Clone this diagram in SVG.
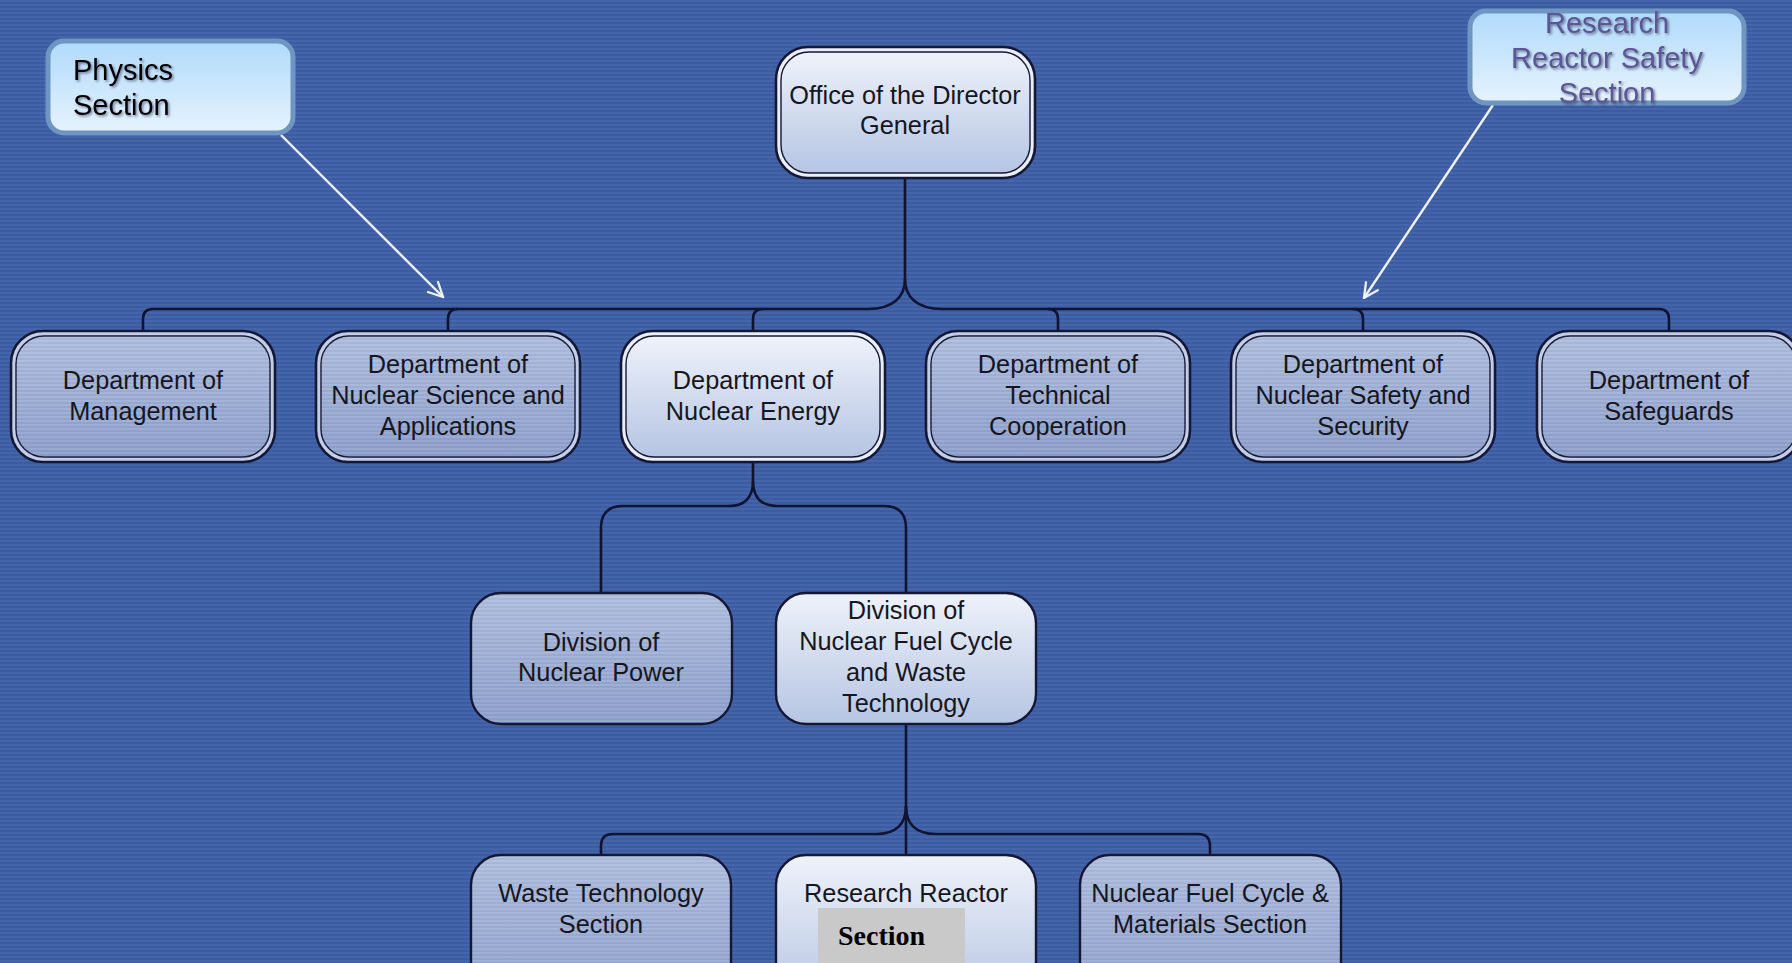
<svg xmlns="http://www.w3.org/2000/svg" width="1792" height="963" viewBox="0 0 1792 963">
<defs>
<pattern id="bgStripes" patternUnits="userSpaceOnUse" width="16" height="4">
<rect x="0" y="0" width="16" height="2" fill="#4565ab"/>
<rect x="0" y="2" width="16" height="2" fill="#3c5ba1"/>
</pattern>
<pattern id="boxStripes" patternUnits="userSpaceOnUse" width="16" height="4">
<rect x="0" y="0" width="16" height="2" fill="#ffffff" fill-opacity="0.07"/>
<rect x="0" y="2" width="16" height="2" fill="#000000" fill-opacity="0.03"/>
</pattern>
<linearGradient id="gLight" x1="0" y1="0" x2="0" y2="1">
<stop offset="0" stop-color="#eef2fa"/>
<stop offset="1" stop-color="#b6c5e3"/>
</linearGradient>
<linearGradient id="gNorm" x1="0" y1="0" x2="0" y2="1">
<stop offset="0" stop-color="#afbedf"/>
<stop offset="1" stop-color="#8d9fcc"/>
</linearGradient>
<linearGradient id="gCallout" x1="0" y1="0" x2="0" y2="1">
<stop offset="0" stop-color="#b0dafb"/>
<stop offset="1" stop-color="#e6f3fd"/>
</linearGradient>
<filter id="shadow" x="-10%" y="-10%" width="120%" height="130%">
<feDropShadow dx="1.5" dy="1.5" stdDeviation="0.8" flood-color="#1a1a3a" flood-opacity="0.55"/>
</filter>
<marker id="openArrow" viewBox="0 0 12 12" refX="11" refY="6" markerWidth="18" markerHeight="18" markerUnits="userSpaceOnUse" orient="auto">
<path d="M1,1 L11,6 L1,11" fill="none" stroke="#eef2fa" stroke-width="1.5"/>
</marker>
</defs>
<style>
.t{font-family:"Liberation Sans",Arial,sans-serif;font-size:25.3px;fill:#16161e;text-anchor:middle}
.co{font-family:"Liberation Sans",Arial,sans-serif;font-size:29px}
.outer{stroke:#141835;stroke-width:2.6}
.inner{stroke:#141835;stroke-width:1.4}
.single{stroke:#141835;stroke-width:2.4}
.conn{fill:none;stroke:#0f1433;stroke-width:2.6}
.arr{fill:none;stroke:#eef2fa;stroke-width:2.4}
.callout{fill:url(#gCallout);stroke:#6f95c2;stroke-width:5}
</style>

<rect x="0" y="0" width="1792" height="963" fill="url(#bgStripes)"/>

<g id="connectors">
<path class="conn" d="M905,177 V279 C905,297 893,309 868,309 H153 Q143,309 143,319 V331"/>
<path class="conn" d="M458,309 Q448,309 448,319 V331"/>
<path class="conn" d="M763,309 Q753,309 753,319 V331"/>
<path class="conn" d="M905,279 C905,297 917,309 942,309 H1659 Q1669,309 1669,319 V331"/>
<path class="conn" d="M1048,309 Q1058,309 1058,319 V331"/>
<path class="conn" d="M1353,309 Q1363,309 1363,319 V331"/>
<path class="conn" d="M753,462 V481 C753,497 745,506 729,506 H623 Q601,506 601,528 V593"/>
<path class="conn" d="M753,481 C753,497 761,506 777,506 H884 Q906,506 906,528 V593"/>
<path class="conn" d="M906,724 V806 C906,824 896,834 876,834 H613 Q601,834 601,846 V855"/>
<path class="conn" d="M906,806 C906,824 916,834 936,834 H1198 Q1210,834 1210,846 V855"/>
<path class="conn" d="M906,806 V855"/>
<path class="arr" d="M281,135 L443,297" marker-end="url(#openArrow)"/>
<path class="arr" d="M1493,105 L1364,298" marker-end="url(#openArrow)"/>
</g>

<g id="physics-section">
<rect class="callout" x="48" y="41" width="245" height="92" rx="16"/>
<text class="co" x="73" y="80" fill="#000" filter="url(#shadow)">Physics</text>
<text class="co" x="73" y="115" fill="#000" filter="url(#shadow)">Section</text>
</g>

<g id="research-reactor-safety-section">
<rect class="callout" x="1470" y="11" width="274" height="92" rx="16"/>
<text class="co" x="1607" y="33" fill="#5b5696" text-anchor="middle" filter="url(#shadow)">Research</text>
<text class="co" x="1607" y="68" fill="#5b5696" text-anchor="middle" filter="url(#shadow)">Reactor Safety</text>
<text class="co" x="1607" y="103" fill="#5b5696" text-anchor="middle" filter="url(#shadow)">Section</text>
</g>

<g id="director-general">
<rect class="outer" x="776" y="47" width="259" height="131" rx="32" fill="#e9eef8"/>
<rect class="inner" x="781" y="52" width="249" height="121" rx="28" fill="url(#gLight)"/>
<text class="t" x="905" y="104">Office of the Director</text>
<text class="t" x="905" y="134">General</text>
</g>

<g id="dept-management">
<rect class="outer" x="11" y="331" width="264" height="131" rx="32" fill="#c3cde8"/>
<rect class="inner" x="16" y="336" width="254" height="121" rx="28" fill="url(#gNorm)"/>
<rect x="16" y="336" width="254" height="121" rx="28" fill="url(#boxStripes)"/>
<text class="t" x="143" y="389">Department of</text>
<text class="t" x="143" y="420">Management</text>
</g>

<g id="dept-nuclear-science">
<rect class="outer" x="316" y="331" width="264" height="131" rx="32" fill="#c3cde8"/>
<rect class="inner" x="321" y="336" width="254" height="121" rx="28" fill="url(#gNorm)"/>
<rect x="321" y="336" width="254" height="121" rx="28" fill="url(#boxStripes)"/>
<text class="t" x="448" y="373">Department of</text>
<text class="t" x="448" y="404">Nuclear Science and</text>
<text class="t" x="448" y="435">Applications</text>
</g>

<g id="dept-nuclear-energy">
<rect class="outer" x="621" y="331" width="264" height="131" rx="32" fill="#e9eef8"/>
<rect class="inner" x="626" y="336" width="254" height="121" rx="28" fill="url(#gLight)"/>
<text class="t" x="753" y="389">Department of</text>
<text class="t" x="753" y="420">Nuclear Energy</text>
</g>

<g id="dept-technical-cooperation">
<rect class="outer" x="926" y="331" width="264" height="131" rx="32" fill="#c3cde8"/>
<rect class="inner" x="931" y="336" width="254" height="121" rx="28" fill="url(#gNorm)"/>
<rect x="931" y="336" width="254" height="121" rx="28" fill="url(#boxStripes)"/>
<text class="t" x="1058" y="373">Department of</text>
<text class="t" x="1058" y="404">Technical</text>
<text class="t" x="1058" y="435">Cooperation</text>
</g>

<g id="dept-nuclear-safety">
<rect class="outer" x="1231" y="331" width="264" height="131" rx="32" fill="#c3cde8"/>
<rect class="inner" x="1236" y="336" width="254" height="121" rx="28" fill="url(#gNorm)"/>
<rect x="1236" y="336" width="254" height="121" rx="28" fill="url(#boxStripes)"/>
<text class="t" x="1363" y="373">Department of</text>
<text class="t" x="1363" y="404">Nuclear Safety and</text>
<text class="t" x="1363" y="435">Security</text>
</g>

<g id="dept-safeguards">
<rect class="outer" x="1537" y="331" width="264" height="131" rx="32" fill="#c3cde8"/>
<rect class="inner" x="1542" y="336" width="254" height="121" rx="28" fill="url(#gNorm)"/>
<rect x="1542" y="336" width="254" height="121" rx="28" fill="url(#boxStripes)"/>
<text class="t" x="1669" y="389">Department of</text>
<text class="t" x="1669" y="420">Safeguards</text>
</g>

<g id="div-nuclear-power">
<rect class="single" x="471" y="593" width="261" height="131" rx="30" fill="url(#gNorm)"/>
<rect x="472" y="594" width="259" height="129" rx="29" fill="url(#boxStripes)"/>
<text class="t" x="601" y="651">Division of</text>
<text class="t" x="601" y="681">Nuclear Power</text>
</g>

<g id="div-fuel-cycle">
<rect class="single" x="776" y="593" width="260" height="131" rx="30" fill="url(#gLight)"/>
<text class="t" x="906" y="619">Division of</text>
<text class="t" x="906" y="650">Nuclear Fuel Cycle</text>
<text class="t" x="906" y="681">and Waste</text>
<text class="t" x="906" y="712">Technology</text>
</g>

<g id="waste-technology-section">
<rect class="single" x="471" y="855" width="260" height="150" rx="30" fill="url(#gNorm)"/>
<rect x="472" y="856" width="258" height="148" rx="29" fill="url(#boxStripes)"/>
<text class="t" x="601" y="902">Waste Technology</text>
<text class="t" x="601" y="933">Section</text>
</g>

<g id="research-reactor-section">
<rect class="single" x="776" y="855" width="260" height="150" rx="30" fill="url(#gLight)"/>
<text class="t" x="906" y="902">Research Reactor</text>
<rect x="818" y="908" width="147" height="60" fill="#c9c9c9"/>
<text x="838" y="945" font-family="'Liberation Serif','Times New Roman',serif" font-size="28" font-weight="bold" fill="#000">Section</text>
</g>

<g id="fuel-cycle-materials-section">
<rect class="single" x="1080" y="855" width="261" height="150" rx="30" fill="url(#gNorm)"/>
<rect x="1081" y="856" width="259" height="148" rx="29" fill="url(#boxStripes)"/>
<text class="t" x="1210" y="902">Nuclear Fuel Cycle &amp;</text>
<text class="t" x="1210" y="933">Materials Section</text>
</g>
</svg>
